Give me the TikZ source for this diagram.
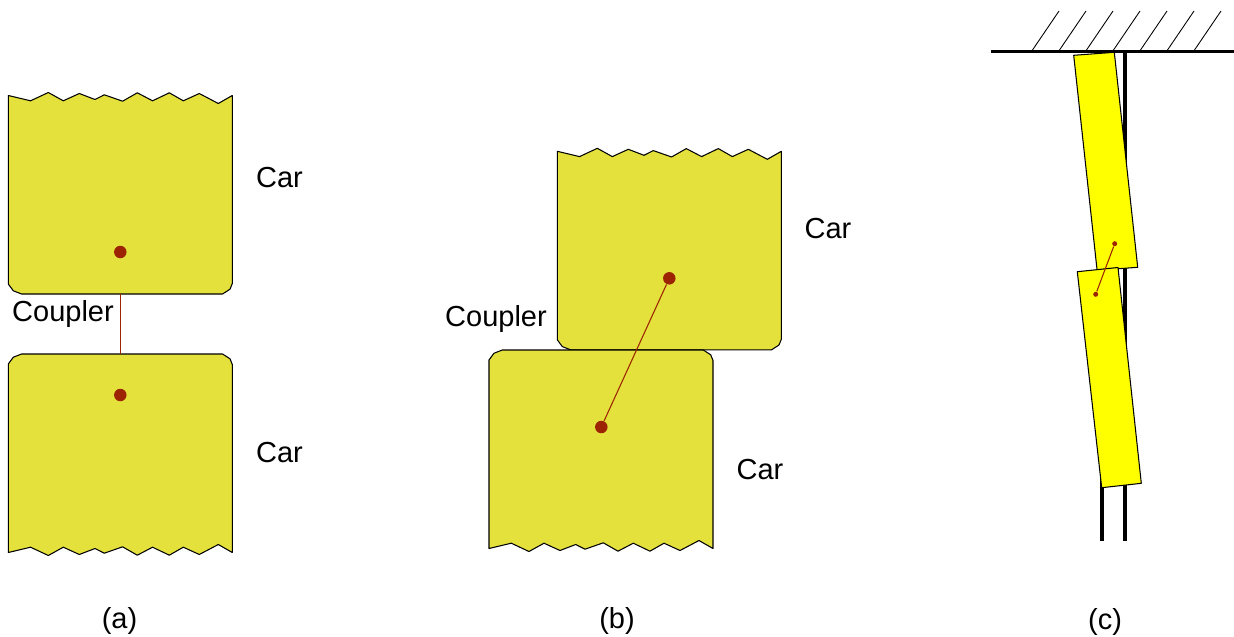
\documentclass[tikz,border=0pt]{standalone}
\usepackage{fontspec}
\setmainfont{Liberation Sans}
\begin{document}
\begin{tikzpicture}[
	x=0.02cm, y=-0.02cm, line width=0.6pt,
	car/.style={draw=black, line join=round, fill=carfill}, carthin/.style={draw=black, line join=round, fill=carthinfill},
	coupler/.style={line width=0.6pt, couplercol},
	pin/.style={circle, fill=couplercol, inner sep=0pt, minimum size=0.25cm},
	pinsmall/.style={circle, fill=couplercol, inner sep=0pt, minimum size=0.1cm},
	rail/.style={line width=2.2pt, black},
	hatch/.style={line width=0.5pt, black},
	lab/.style={font=\fontsize{16.5}{20}\selectfont, inner sep=0pt}]
	
	\definecolor{carfill}{HTML}{E4E03C}
	\definecolor{carthinfill}{HTML}{FFFF00}
	\definecolor{couplercol}{HTML}{9C2400}
	
	\useasboundingbox (0,0) rectangle (1234,636);
	
	%% contour of a car: jagged edge first, rounded end last
	\def\carpath{(0,0) -- (22.3,5.3) -- (40,-3) -- (55,5.3) -- (71,-2) -- (86.7,4) -- (96,-0.7)
		-- (114.3,5.7) -- (129,-2.7) -- (144.3,5.3) -- (161,-2.7) -- (175,5.3) -- (191,-2)
		-- (210,8) -- (224,0) -- (224,188) -- (221.7,193.7) -- (214.3,198.5)
		-- (13.3,198.5) -- (5,195.3) -- (0,188.5) -- cycle}
	
	%% --- (a) straight track ---
	\draw[car, shift={(8.3,95.5)}] \carpath;
	\draw[car, shift={(8.3,552.5)}, yscale=-1] \carpath;
	\node[pin] (pinAup) at (120.3,252) {};
	\node[pin] (pinAdown) at (120.3,395) {};
	\coordinate (edgeAup) at (120.6,294);
	\coordinate (edgeAdown) at (120.6,354);
	\draw[coupler] (edgeAup) -- (edgeAdown);
	\node[lab] (carAup) at (279.5,178) {Car};
	\node[lab] (carAdown) at (279.5,453) {Car};
	\node[lab] (couplerA) at (63,314) {Coupler};
	\node[lab] (capA) at (119.5,621) {(a)};
	
	%% --- (b) cars pushed sideways ---
	\draw[car, shift={(557.3,151.3)}] \carpath;
	\draw[car, shift={(489,548.5)}, yscale=-1] \carpath;
	\node[pin] (pinBup) at (669.3,278.3) {};
	\node[pin] (pinBdown) at (601.3,427) {};
	\draw[coupler] (pinBup) -- (pinBdown);
	\node[lab] (carBup) at (828,229) {Car};
	\node[lab] (carBdown) at (760,470) {Car};
	\node[lab] (couplerB) at (496,319) {Coupler};
	\node[lab] (capB) at (617,621) {(b)};
	
	%% --- (c) view from above, rails and wall ---
	\draw[rail] (1101.7,51) -- (1101.7,541);
	\draw[rail] (1125,51) -- (1125,541);
	\draw[carthin] (1073.7,55.3) -- (1114.3,52.3) -- (1137.7,267.3) -- (1097.1,270.3) -- cycle;
	\draw[carthin] (1077.3,271.7) -- (1118,267.5) -- (1141.3,483.3) -- (1101.7,487.7) -- cycle;
	\node[pinsmall] (pinCup) at (1114.7,243.7) {};
	\node[pinsmall] (pinCdown) at (1095.7,294.3) {};
	\draw[coupler] (pinCup) -- (pinCdown);
	\draw[line width=1.8pt, black] (991,51.3) -- (1234,51.3);
	\foreach \i in {0,...,6}
		\draw[hatch] (1032.5+27*\i,50) -- (1059+27*\i,11);
	\node[lab] (capC) at (1105,622) {(c)};
	
\end{tikzpicture}
\end{document}
